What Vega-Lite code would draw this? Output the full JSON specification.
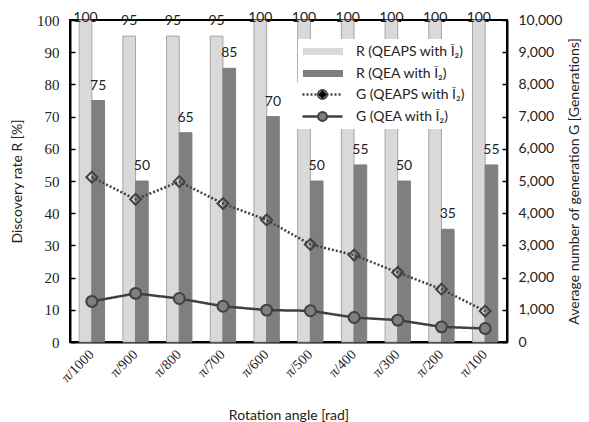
{
  "$schema": "https://vega.github.io/schema/vega-lite/v6.json",
  "width": 437,
  "height": 322,
  "autosize": "none",
  "padding": {"left": 70, "top": 20, "right": 82, "bottom": 80},
  "background": "white",
  "config": {
    "font": "Lato",
    "view": {"stroke": "black", "strokeWidth": 2},
    "axis": {
      "labelFont": "Lato", "labelFontSize": 14, "labelColor": "#222",
      "titleFont": "Lato", "titleFontSize": 14, "titleFontWeight": "normal", "titleColor": "#222",
      "domainColor": "black", "domainWidth": 2, "tickColor": "black", "tickWidth": 1.5, "grid": false
    },
    "legend": {"labelFont": "Lato", "labelFontSize": 14, "labelColor": "#222"}
  },
  "datasets": {
    "bars": [
      {"angle": "π/1000", "series": "R (QEAPS with Ī₂)", "R": 100},
      {"angle": "π/900", "series": "R (QEAPS with Ī₂)", "R": 95},
      {"angle": "π/800", "series": "R (QEAPS with Ī₂)", "R": 95},
      {"angle": "π/700", "series": "R (QEAPS with Ī₂)", "R": 95},
      {"angle": "π/600", "series": "R (QEAPS with Ī₂)", "R": 100},
      {"angle": "π/500", "series": "R (QEAPS with Ī₂)", "R": 100},
      {"angle": "π/400", "series": "R (QEAPS with Ī₂)", "R": 100},
      {"angle": "π/300", "series": "R (QEAPS with Ī₂)", "R": 100},
      {"angle": "π/200", "series": "R (QEAPS with Ī₂)", "R": 100},
      {"angle": "π/100", "series": "R (QEAPS with Ī₂)", "R": 100},
      {"angle": "π/1000", "series": "R (QEA with Ī₂)", "R": 75},
      {"angle": "π/900", "series": "R (QEA with Ī₂)", "R": 50},
      {"angle": "π/800", "series": "R (QEA with Ī₂)", "R": 65},
      {"angle": "π/700", "series": "R (QEA with Ī₂)", "R": 85},
      {"angle": "π/600", "series": "R (QEA with Ī₂)", "R": 70},
      {"angle": "π/500", "series": "R (QEA with Ī₂)", "R": 50},
      {"angle": "π/400", "series": "R (QEA with Ī₂)", "R": 55},
      {"angle": "π/300", "series": "R (QEA with Ī₂)", "R": 50},
      {"angle": "π/200", "series": "R (QEA with Ī₂)", "R": 35},
      {"angle": "π/100", "series": "R (QEA with Ī₂)", "R": 55}
    ],
    "lines": [
      {"angle": "π/1000", "gseries": "G (QEAPS with Ī₂)", "G": 5120},
      {"angle": "π/900", "gseries": "G (QEAPS with Ī₂)", "G": 4430},
      {"angle": "π/800", "gseries": "G (QEAPS with Ī₂)", "G": 4980},
      {"angle": "π/700", "gseries": "G (QEAPS with Ī₂)", "G": 4300},
      {"angle": "π/600", "gseries": "G (QEAPS with Ī₂)", "G": 3790},
      {"angle": "π/500", "gseries": "G (QEAPS with Ī₂)", "G": 3030},
      {"angle": "π/400", "gseries": "G (QEAPS with Ī₂)", "G": 2700},
      {"angle": "π/300", "gseries": "G (QEAPS with Ī₂)", "G": 2160},
      {"angle": "π/200", "gseries": "G (QEAPS with Ī₂)", "G": 1640},
      {"angle": "π/100", "gseries": "G (QEAPS with Ī₂)", "G": 960},
      {"angle": "π/1000", "gseries": "G (QEA with Ī₂)", "G": 1260},
      {"angle": "π/900", "gseries": "G (QEA with Ī₂)", "G": 1510},
      {"angle": "π/800", "gseries": "G (QEA with Ī₂)", "G": 1350},
      {"angle": "π/700", "gseries": "G (QEA with Ī₂)", "G": 1110},
      {"angle": "π/600", "gseries": "G (QEA with Ī₂)", "G": 990},
      {"angle": "π/500", "gseries": "G (QEA with Ī₂)", "G": 970},
      {"angle": "π/400", "gseries": "G (QEA with Ī₂)", "G": 760},
      {"angle": "π/300", "gseries": "G (QEA with Ī₂)", "G": 680},
      {"angle": "π/200", "gseries": "G (QEA with Ī₂)", "G": 470},
      {"angle": "π/100", "gseries": "G (QEA with Ī₂)", "G": 420}
    ]
  },
  "layer": [
    {
      "data": {"name": "bars"},
      "encoding": {
        "x": {
          "field": "angle", "type": "nominal", "sort": null,
          "scale": {"domain": ["π/1000","π/900","π/800","π/700","π/600","π/500","π/400","π/300","π/200","π/100"], "paddingInner": 0.42, "paddingOuter": 0.21},
          "axis": {"title": "Rotation angle [rad]", "labelAngle": -45, "labelAlign": "right", "labelBaseline": "middle", "ticks": false, "labelPadding": 10, "titlePadding": 24, "labelFont": "Liberation Serif"}
        },
        "xOffset": {"field": "series", "type": "nominal", "scale": {"domain": ["R (QEAPS with Ī₂)", "R (QEA with Ī₂)"]}},
        "y": {
          "field": "R", "type": "quantitative",
          "scale": {"domain": [0, 100]},
          "axis": {"title": "Discovery rate R [%]", "values": [0,10,20,30,40,50,60,70,80,90,100], "tickSize": -5, "labelPadding": 16, "labelFont": "Liberation Serif", "labelFontSize": 15, "titlePadding": 12}
        }
      },
      "layer": [
        {
          "mark": {"type": "bar", "strokeWidth": 1},
          "encoding": {
            "fill": {"field": "series", "type": "nominal", "scale": {"domain": ["R (QEAPS with Ī₂)", "R (QEA with Ī₂)"], "range": ["#d9d9d9", "#7f7f7f"]},
              "legend": {"orient": "none", "legendX": 228, "legendY": 19, "title": null, "symbolType": "M-1,-0.17H1V0.17H-1Z", "symbolSize": 1600, "clipHeight": 17, "fillColor": "white", "padding": 4, "labelOffset": 12, "rowPadding": 5}},
            "stroke": {"field": "series", "type": "nominal", "scale": {"domain": ["R (QEAPS with Ī₂)", "R (QEA with Ī₂)"], "range": ["#a6a6a6", "#7f7f7f"]},
              "legend": {"orient": "none", "legendX": 228, "legendY": 19, "title": null, "symbolType": "M-1,-0.17H1V0.17H-1Z", "symbolSize": 1600, "clipHeight": 17, "fillColor": "white", "padding": 4, "labelOffset": 12, "rowPadding": 5}}
          }
        },
        {
          "transform": [{"filter": "datum.R < 100"}],
          "mark": {"type": "text", "baseline": "alphabetic", "dy": -11, "fontSize": 14, "font": "Lato", "color": "#222"},
          "encoding": {"text": {"field": "R", "type": "quantitative"}}
        },
        {
          "transform": [{"filter": "datum.R >= 100"}],
          "mark": {"type": "text", "baseline": "alphabetic", "dy": 2, "fontSize": 14, "font": "Lato", "color": "#222"},
          "encoding": {"text": {"field": "R", "type": "quantitative"}}
        }
      ]
    },
    {
      "data": {"name": "lines"},
      "encoding": {
        "x": {
          "field": "angle", "type": "nominal", "sort": null,
          "scale": {"domain": ["π/1000","π/900","π/800","π/700","π/600","π/500","π/400","π/300","π/200","π/100"], "paddingInner": 0.42, "paddingOuter": 0.21},
          "axis": {"title": "Rotation angle [rad]", "labelAngle": -45, "labelAlign": "right", "labelBaseline": "middle", "ticks": false, "labelPadding": 10, "titlePadding": 24, "labelFont": "Liberation Serif"}
        },
        "y": {
          "field": "G", "type": "quantitative",
          "scale": {"domain": [0, 10000]},
          "axis": {"orient": "right", "title": "Average number of generation G [Generations]", "format": ",.0f", "values": [0,1000,2000,3000,4000,5000,6000,7000,8000,9000,10000], "tickSize": -5, "labelPadding": 16, "titleAngle": -90, "titlePadding": 20}
        }
      },
      "layer": [
        {
          "mark": {"type": "line", "color": "#404040", "strokeWidth": 2.5},
          "encoding": {
            "strokeDash": {"field": "gseries", "type": "nominal", "scale": {"domain": ["G (QEAPS with Ī₂)", "G (QEA with Ī₂)"], "range": [[2, 2], [1, 0]]},
              "legend": {"orient": "none", "legendX": 227, "legendY": 62, "title": null, "symbolType": "stroke", "symbolSize": 1600, "symbolStrokeWidth": 2.5, "symbolStrokeColor": "#404040", "clipHeight": 17, "fillColor": "white", "padding": 4, "labelOffset": 12, "rowPadding": 5}}
          }
        },
        {
          "mark": {"type": "point", "strokeWidth": 2, "stroke": "#404040", "opacity": 1, "size": 120},
          "encoding": {
            "shape": {"field": "gseries", "type": "nominal", "sort": "descending", "scale": {"range": ["diamond", "circle"]},
              "legend": {"orient": "none", "legendX": 227, "legendY": 62, "title": null, "symbolSize": 80, "symbolStrokeColor": "#404040", "symbolStrokeWidth": 2, "symbolOffset": 14.5, "clipHeight": 17, "labelExpr": "''", "padding": 4, "labelOffset": 12, "rowPadding": 5}},
            "fill": {"field": "gseries", "type": "nominal", "sort": "descending", "scale": {"range": ["#ffffff00", "#7f7f7f"]},
              "legend": {"orient": "none", "legendX": 227, "legendY": 62, "title": null, "symbolSize": 80, "symbolStrokeColor": "#404040", "symbolStrokeWidth": 2, "symbolOffset": 14.5, "clipHeight": 17, "labelExpr": "''", "padding": 4, "labelOffset": 12, "rowPadding": 5}}
          }
        }
      ]
    }
  ],
  "resolve": {"scale": {"y": "independent", "fill": "independent"}}
}
